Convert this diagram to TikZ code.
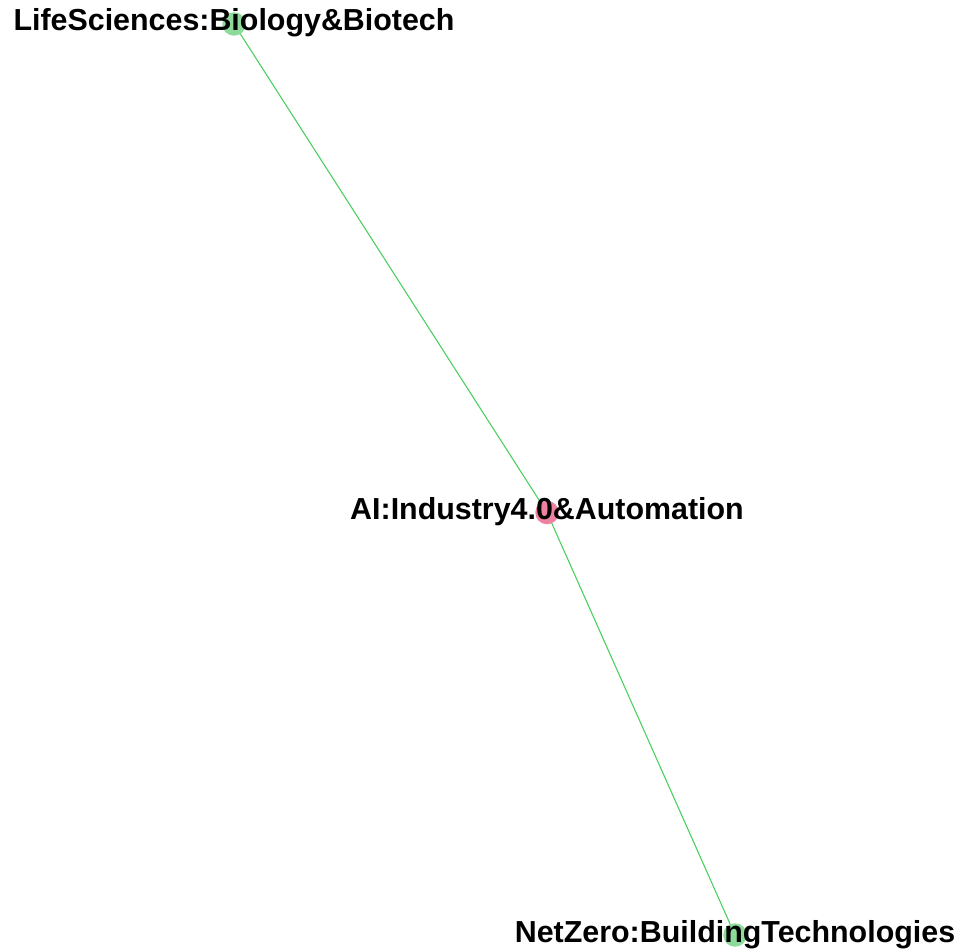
\documentclass[tikz,border=0pt]{standalone}
\usepackage{fontspec}
\setmainfont{Liberation Sans}
\definecolor{edgegreen}{RGB}{72,206,92}
\definecolor{nodegreen}{RGB}{142,218,154}
\definecolor{nodepink}{RGB}{238,128,160}
\begin{document}
\begin{tikzpicture}[x=0.75pt,y=-0.75pt,
  vertex/.style={circle,inner sep=0pt,minimum size=23.5*0.75pt,draw=none},
  greenv/.style={vertex,fill=nodegreen},
  pinkv/.style={vertex,fill=nodepink},
  link/.style={draw=edgegreen,line width=0.8pt},
  tag/.style={anchor=base,inner sep=0pt,font=\bfseries\fontsize{22.8}{27}\selectfont}]
  \useasboundingbox (0,0) rectangle (964,949);
  % vertex positions
  \coordinate (pl) at (234,24);
  \coordinate (pa) at (547,512.5);
  \coordinate (pn) at (735,935);
  % connectors
  \draw[link] (pl) -- (pa);
  \draw[link] (pa) -- (pn);
  % vertices
  \node[greenv] (life) at (pl) {};
  \node[pinkv] (ai) at (pa) {};
  \node[greenv] (net) at (pn) {};
  % labels, baseline a little below each vertex centre
  \node[tag] (lifelabel) at ([yshift=-7*0.75pt]life.center) {LifeSciences:Biology\&Biotech};
  \node[tag] (ailabel) at ([yshift=-7*0.75pt]ai.center) {AI:Industry4.0\&Automation};
  \node[tag] (netlabel) at ([yshift=-7*0.75pt]net.center) {NetZero:BuildingTechnologies};
\end{tikzpicture}
\end{document}
